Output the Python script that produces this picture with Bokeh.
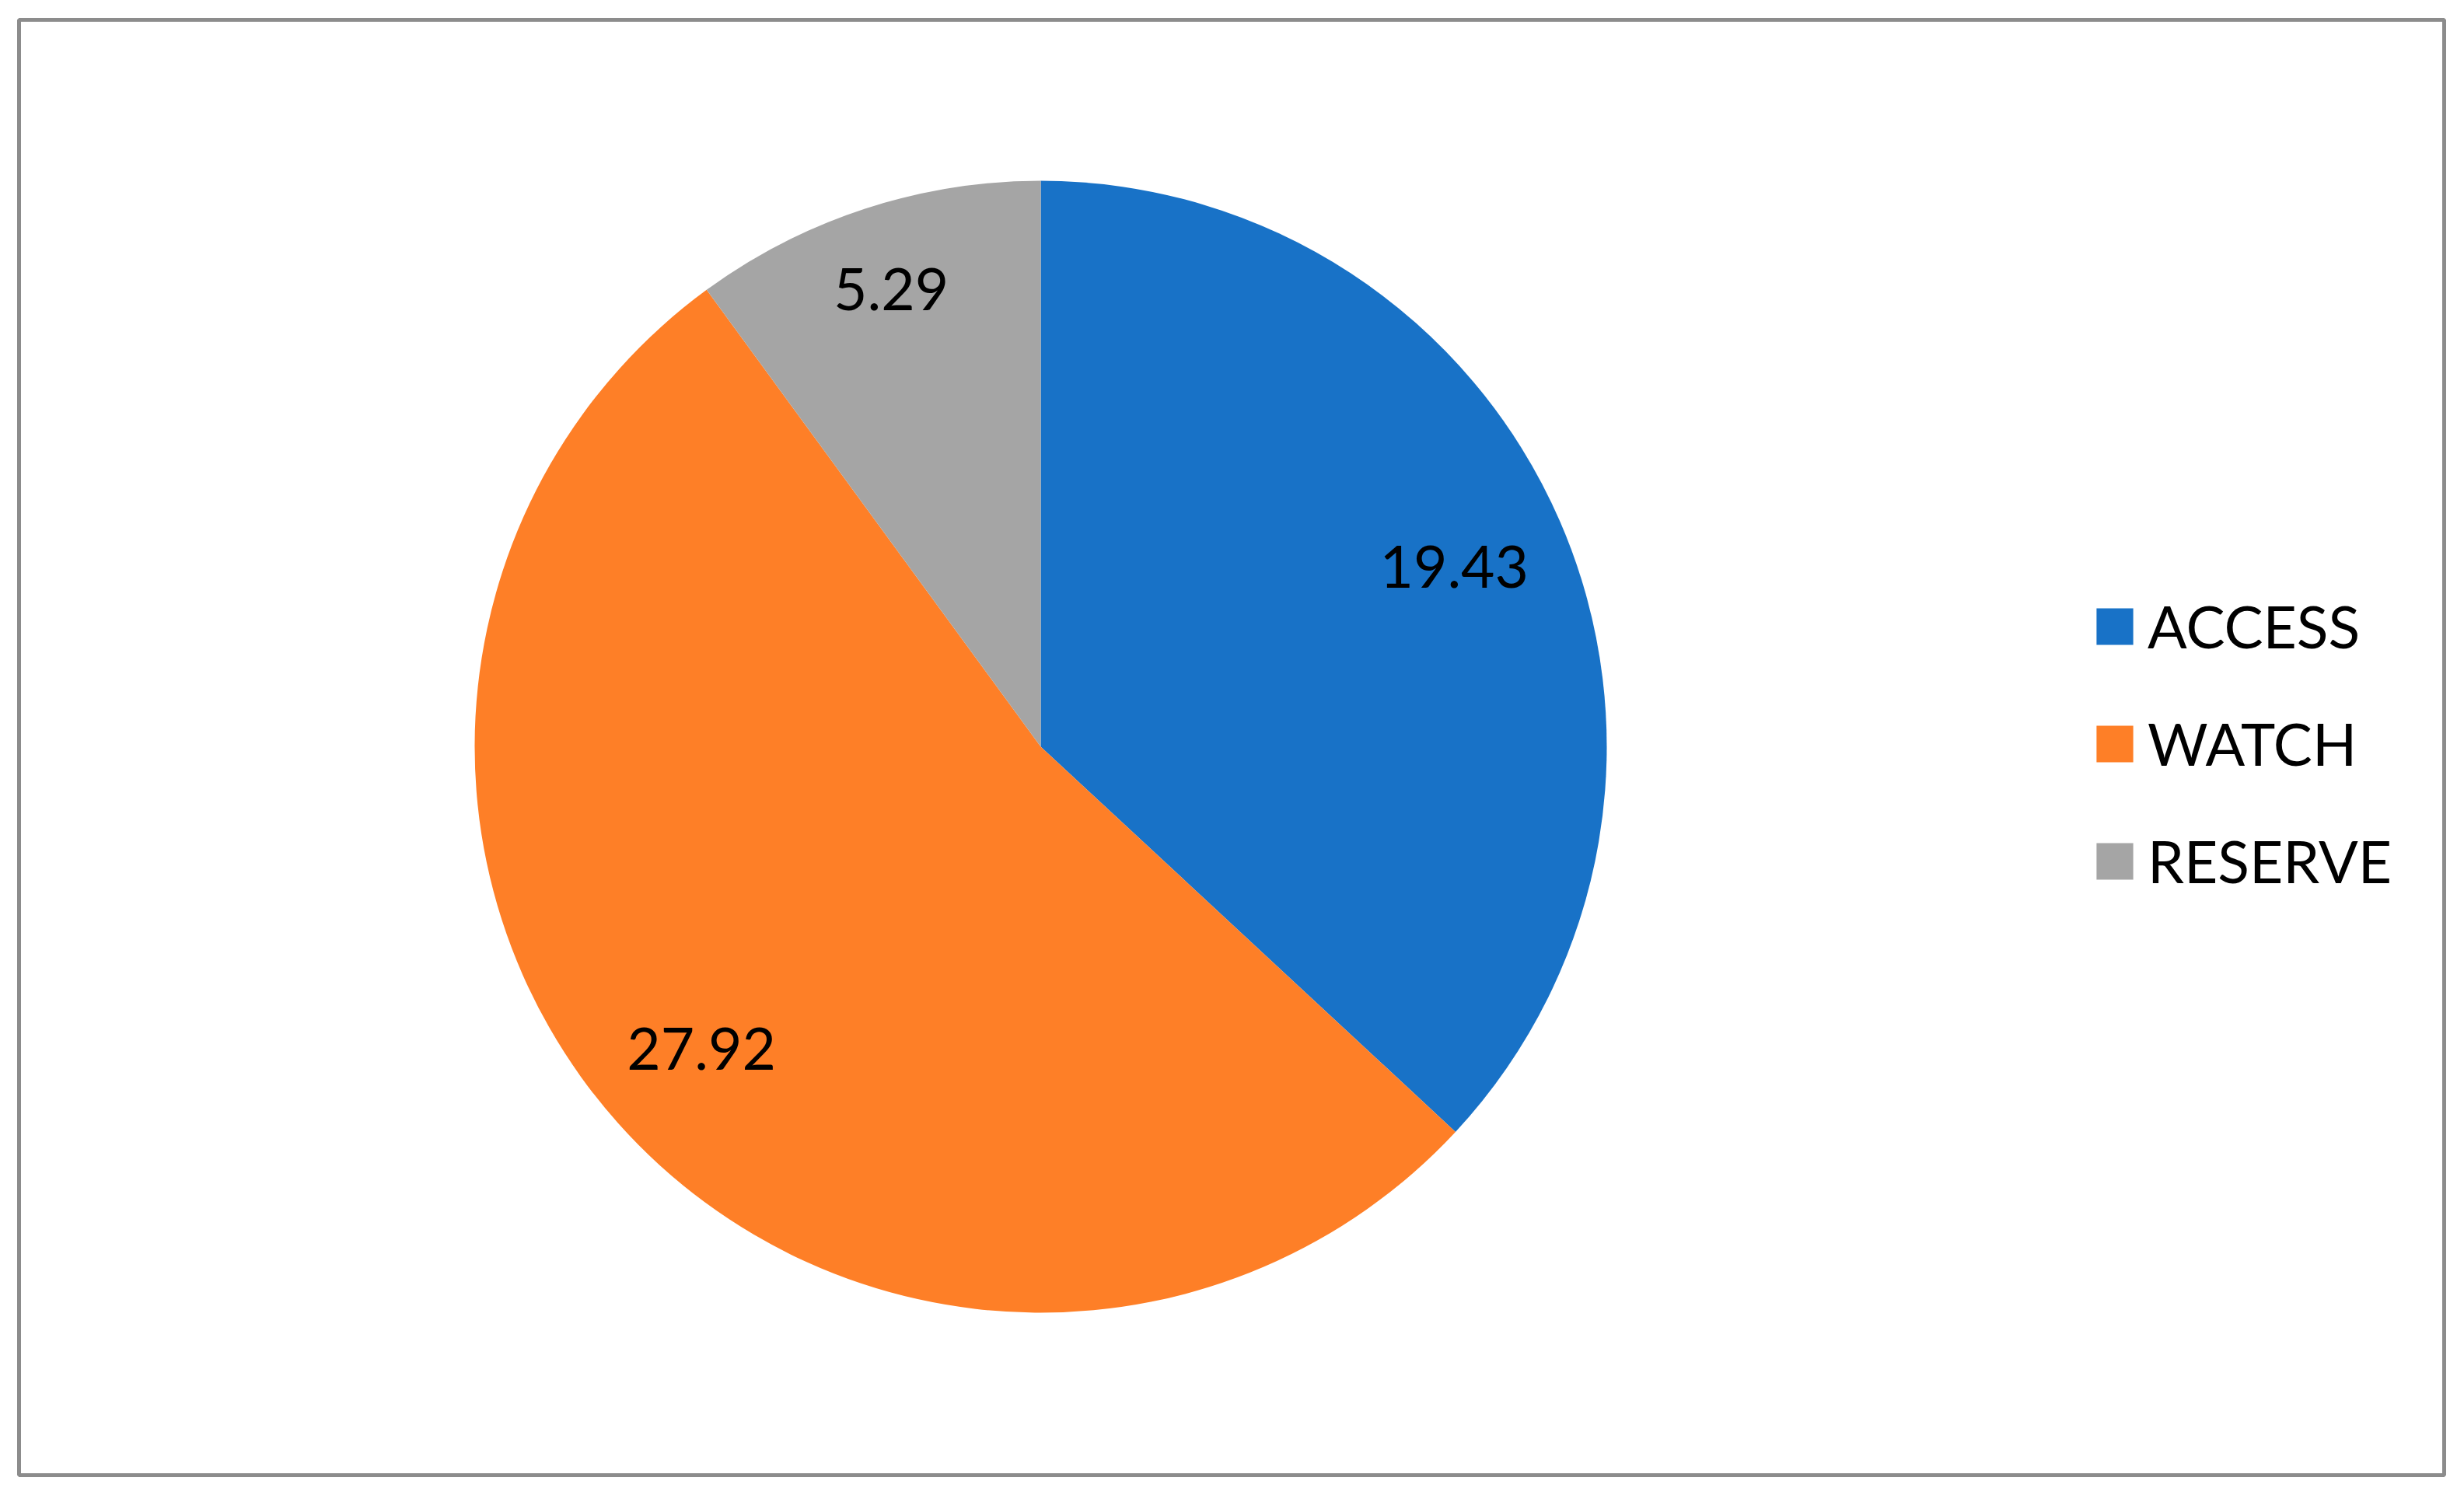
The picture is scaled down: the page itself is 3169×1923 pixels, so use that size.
import math
from bokeh.plotting import figure
from bokeh.models import ColumnDataSource, Range1d, Legend, LegendItem
from bokeh.embed import file_html
from bokeh.resources import INLINE
from bokeh.core.properties import value

# ---- data ----
categories = ["ACCESS", "WATCH", "RESERVE"]
values = [19.43, 27.92, 5.29]
colors = ["#1872C7", "#FE7F27", "#A5A5A5"]

# ---- layout ----
ML, MT, MR, MB = 24, 25, 17, 15
FW, FH = 3119, 1872
W = ML + FW + MR
H = MT + FH + MB
CX, CY = 1314, FH - 935   # pie centre in frame pixels
R = 728
FONT = "Lato"
FSPX = 75
FS = "%dpx" % FSPX

p = figure(width=W, height=H, output_backend="svg", toolbar_location=None,
           x_range=Range1d(0, FW), y_range=Range1d(0, FH),
           x_axis_location=None, y_axis_location=None, title=None,
           min_border_left=ML, min_border_top=MT, min_border_right=MR,
           min_border_bottom=MB)
p.grid.visible = False
p.outline_line_color = "#8C8C8C"
p.outline_line_width = 5
p.background_fill_color = "white"
p.border_fill_color = "white"

total = sum(values)
starts, ends, mids = [], [], []
a = math.pi / 2
for v in values:
    ang = v / total * 2 * math.pi
    starts.append(a - ang)
    ends.append(a)
    mids.append(a - ang / 2)
    a -= ang

# label boxes placed so their outer corner sits just inside the rim
labels = ["%.2f" % v for v in values]
R_IN = 0.944 * R
HALF_H = 47
lx, ly = [], []
for lab, m in zip(labels, mids):
    n_dig = sum(ch.isdigit() for ch in lab)
    half_w = (n_dig * 0.58 + 0.25) * FSPX / 2
    d = R_IN - (half_w * abs(math.cos(m)) + HALF_H * abs(math.sin(m)))
    lx.append(CX + d * math.cos(m))
    ly.append(CY + d * math.sin(m))

src = ColumnDataSource(dict(
    cat=categories, val=values, color=colors,
    start=starts, end=ends,
    x=[CX] * len(values), y=[CY] * len(values),
    lx=lx, ly=ly, label=labels,
))

p.wedge(x="x", y="y", radius=R, radius_units="screen",
        start_angle="start", end_angle="end",
        fill_color="color", line_color=None, source=src)

p.text(x="lx", y="ly", text="label", source=src,
       text_font=value(FONT), text_font_size=FS, text_color="black",
       text_align="center", text_baseline="middle")

# zero-size rects carry the colours for the legend swatches
sw = p.rect(x="x", y="y", width=0, height=0, fill_color="color",
            line_color=None, source=src)
items = [LegendItem(label=c, renderers=[sw], index=i)
         for i, c in enumerate(categories)]

legend = Legend(items=items, location=(2666, 745),
                glyph_width=59, glyph_height=59, label_standoff=13,
                spacing=61, padding=0, margin=0,
                border_line_color=None, background_fill_alpha=0,
                label_text_font=FONT, label_text_font_size=FS,
                label_text_color="black")
p.add_layout(legend)

open("out.html", "w").write(file_html(p, INLINE))
